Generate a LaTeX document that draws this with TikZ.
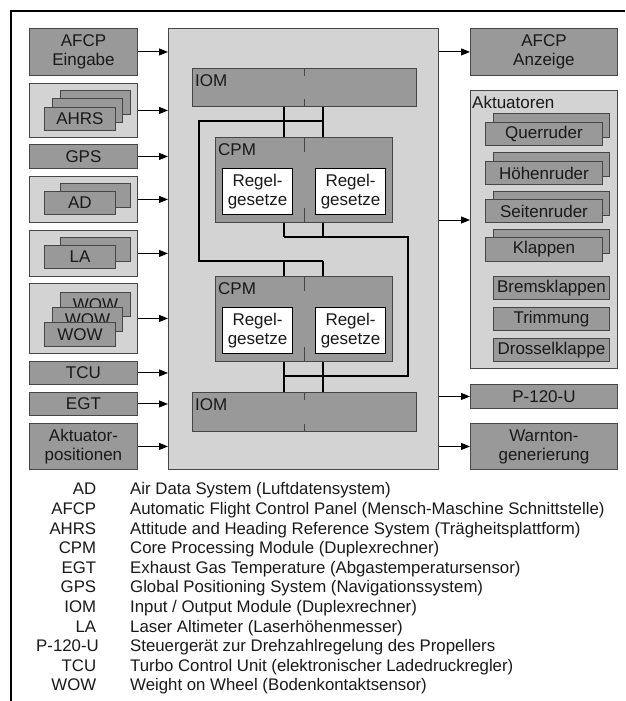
\documentclass[tikz,border=0pt]{standalone}
\usepackage{fontspec}
\usepackage{array}
\setmainfont{Liberation Sans}
\usetikzlibrary{arrows.meta}
\definecolor{dunkel}{RGB}{153,153,153}
\definecolor{hell}{RGB}{211,211,211}
\definecolor{rand}{RGB}{70,70,70}
\definecolor{schrift}{RGB}{25,25,25}
\tikzset{
  sz/.style 2 args={minimum width=#1pt, minimum height=#2pt},
  dbox/.style={draw=rand, line width=0.9pt, fill=dunkel, anchor=north west, inner sep=0pt,
    align=center, text=schrift, font=\fontsize{17}{19}\selectfont},
  hbox/.style={dbox, fill=hell},
  wbox/.style={dbox, fill=white, draw=black, line width=1.1pt},
  ecke/.style={anchor=north west, inner xsep=3pt, inner ysep=6pt, text=schrift,
    font=\fontsize{17}{19}\selectfont},
  pfeil/.style={-{Triangle[length=9pt,width=7pt]}, line width=1pt},
  leitung/.style={line width=1.2pt},
  marke/.style={draw=rand, line width=0.8pt},
}

\begin{document}
\begin{tikzpicture}[x=1pt, y=-1pt]
  \useasboundingbox (0,0) rectangle (625,701);
  \draw[line width=2.4pt] (11,701) -- (11,11) -- (625,11);

  % Eingaenge
  \node[dbox, sz={108}{47}] (afcpin) at (29,28) {AFCP\\Eingabe};
  \node[hbox, sz={108}{54}] (ahrs) at (29,83) {};
  \node[dbox, sz={70}{24}] (ahrs3) at (60,90) {};
  \node[dbox, sz={70}{24}] (ahrs2) at (52,98) {};
  \node[dbox, sz={71}{23}] (ahrs1) at (44,107) {AHRS};
  \node[dbox, sz={108}{24}] (gps) at (29,144) {GPS};
  \node[hbox, sz={108}{46}] (ad) at (29,176) {};
  \node[dbox, sz={70}{24}] (ad2) at (60,183) {};
  \node[dbox, sz={71}{23}] (ad1) at (44,191) {AD};
  \node[hbox, sz={108}{46}] (la) at (29,230) {};
  \node[dbox, sz={70}{24}] (la2) at (60,237) {};
  \node[dbox, sz={71}{23}] (la1) at (44,245) {LA};
  \node[hbox, sz={108}{70}] (wow) at (29,283) {};
  \node[dbox, sz={70}{24}] (wow3) at (60,292) {WOW};
  \node[dbox, sz={70}{24}] (wow2) at (52,307) {WOW};
  \node[dbox, sz={71}{24}] (wow1) at (44,322) {WOW};
  \node[dbox, sz={108}{23}] (tcu) at (29,361) {TCU};
  \node[dbox, sz={108}{23}] (egt) at (29,392) {EGT};
  \node[dbox, sz={108}{46}] (aktpos) at (29,423) {Aktuator-\\positionen};

  % Rechner
  \node[hbox, sz={270}{441}] (haupt) at (168,28) {};
  \node[dbox, sz={224}{38}, label={[ecke]north west:IOM}] (iom1) at (192,68) {};
  \node[dbox, sz={177}{85}, label={[ecke]north west:CPM}] (cpm1) at (215,137) {};
  \node[wbox, sz={70}{46}] (reg1) at (222,168) {Regel-\\gesetze};
  \node[wbox, sz={70}{46}] (reg2) at (315,168) {Regel-\\gesetze};
  \node[dbox, sz={177}{85}, label={[ecke]north west:CPM}] (cpm2) at (215,276) {};
  \node[wbox, sz={70}{46}] (reg3) at (222,307) {Regel-\\gesetze};
  \node[wbox, sz={70}{46}] (reg4) at (315,307) {Regel-\\gesetze};
  \node[dbox, sz={224}{39}, label={[ecke]north west:IOM}] (iom2) at (192,392) {};

  \foreach \m/\l in {iom1/8, cpm1/15, cpm2/15, iom2/8} {
    \draw[marke] (\m.north) -- ++(0,\l);
    \draw[marke] (\m.south) -- ++(0,-\l);
  }

  % Leitungen
  \coordinate (wl) at (284,0);
  \coordinate (wr) at (323,0);
  \coordinate (ol) at (199,121);
  \coordinate (ul) at (199,261);
  \coordinate (or) at (408,237);
  \coordinate (ur) at (408,376);
  \draw[leitung] (wr |- ol) -- (ol) -- (ul) -- (wr |- ul);
  \draw[leitung] (wl |- or) -- (or) -- (ur) -- (wl |- ur);
  \foreach \w in {wl, wr} {
    \draw[leitung] (\w |- iom1.south) -- (\w |- cpm1.north);
    \draw[leitung] (\w |- cpm1.south) -- (\w |- or);
    \draw[leitung] (\w |- ul) -- (\w |- cpm2.north);
    \draw[leitung] (\w |- cpm2.south) -- (\w |- iom2.north);
  }

  % Ausgaenge
  \node[dbox, sz={147}{47}] (afcpout) at (470,28) {AFCP\\Anzeige};
  \node[hbox, sz={147}{278}, label={[ecke, inner xsep=2pt]north west:Aktuatoren}] (akt) at (470,90) {};
  \node[dbox, sz={116}{24}] (quer2) at (493,113) {};
  \node[dbox, sz={117}{23}] (quer) at (485,122) {Querruder};
  \node[dbox, sz={116}{24}] (hoehe2) at (493,152) {};
  \node[dbox, sz={117}{23}] (hoehe) at (485,161) {Höhenruder};
  \node[dbox, sz={116}{24}] (seite2) at (493,191) {};
  \node[dbox, sz={117}{23}] (seite) at (485,199) {Seitenruder};
  \node[dbox, sz={116}{24}] (klappe2) at (493,229) {};
  \node[dbox, sz={117}{24}] (klappe) at (485,237) {Klappen};
  \node[dbox, sz={116}{23}] (brems) at (493,276) {Bremsklappen};
  \node[dbox, sz={116}{23}] (trimm) at (493,307) {Trimmung};
  \node[dbox, sz={116}{23}] (drossel) at (493,338) {Drosselklappe};
  \node[dbox, sz={147}{24}] (p120) at (470,384) {P-120-U};
  \node[dbox, sz={147}{46}] (warn) at (470,423) {Warnton-\\generierung};

  % Pfeile
  \foreach \q in {afcpin, ahrs, gps, ad, la, wow, tcu, egt, aktpos}
    \draw[pfeil] (\q.east) -- (\q.east -| haupt.west);
  \foreach \z in {afcpout, p120, warn}
    \draw[pfeil] (\z.west -| haupt.east) -- (\z.west);
  \coordinate (aktein) at (470,220);
  \draw[pfeil] (aktein -| haupt.east) -- (aktein);

  % Legende
  \node[anchor=north west, inner sep=0pt, text=schrift, font=\fontsize{16.8}{19.6}\selectfont] (legende) at (36,481) {%
    \begin{tabular}{@{}>{\raggedleft\arraybackslash}p{60pt}@{\hspace{34pt}}l@{}}
      AD & Air Data System (Luftdatensystem)\\
      AFCP & Automatic Flight Control Panel (Mensch-Maschine Schnittstelle)\\
      AHRS & Attitude and Heading Reference System (Trägheitsplattform)\\
      CPM & Core Processing Module (Duplexrechner)\\
      EGT & Exhaust Gas Temperature (Abgastemperatursensor)\\
      GPS & Global Positioning System (Navigationssystem)\\
      IOM & Input / Output Module (Duplexrechner)\\
      LA & Laser Altimeter (Laserhöhenmesser)\\
      \mbox{P-120-U} & Steuergerät zur Drehzahlregelung des Propellers\\
      TCU & Turbo Control Unit (elektronischer Ladedruckregler)\\
      WOW & Weight on Wheel (Bodenkontaktsensor)
    \end{tabular}};
\end{tikzpicture}
\end{document}
